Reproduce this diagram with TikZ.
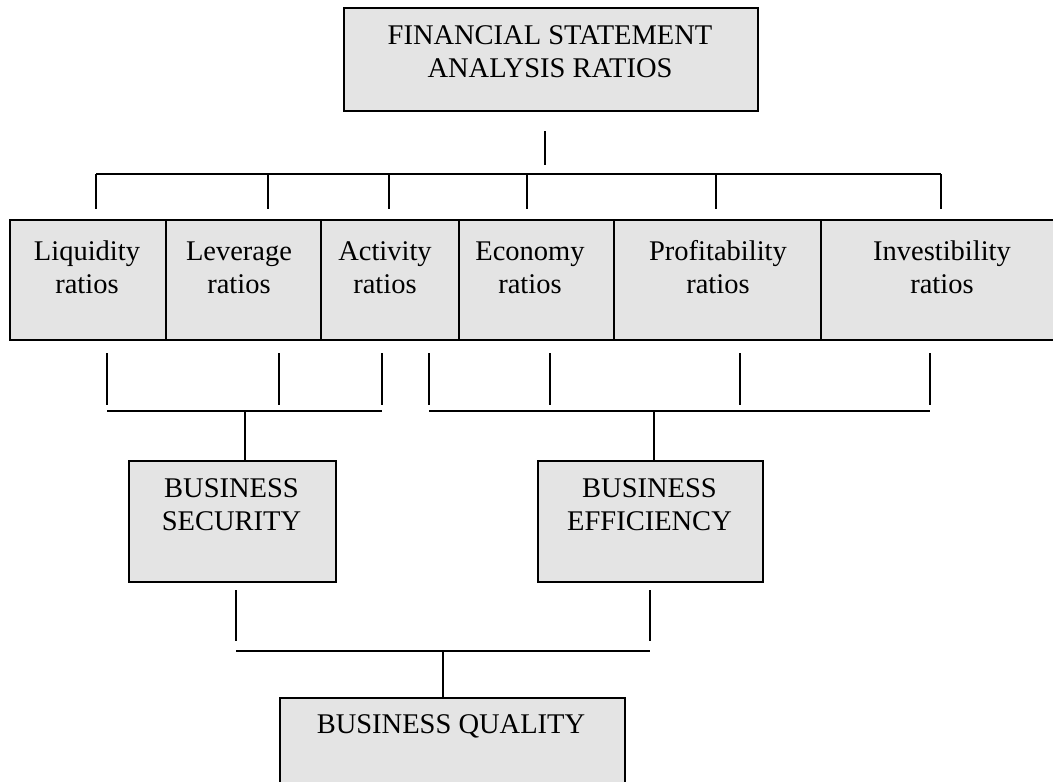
\documentclass[tikz,border=0pt]{standalone}
\usepackage{fontspec}
\setmainfont{Liberation Serif}
\usetikzlibrary{positioning}
\definecolor{BoxFill}{RGB}{228,228,228}

\begin{document}
\begin{tikzpicture}[x=1pt,y=-1pt,
    box/.style={draw,line width=2pt,fill=BoxFill,inner sep=0pt,anchor=north west},
    txt/.style={font=\fontsize{28.5}{33}\selectfont,align=center,anchor=base,inner sep=0pt},
    conn/.style={line width=1.7pt}]
  \clip (0,0) rectangle (1053,782);

  % top box
  \node[box,minimum width=414pt,minimum height=103pt] (fsa) at (343,7) {};
  \node[txt] (fsa-t) at (550,77) {FINANCIAL STATEMENT\\ANALYSIS RATIOS};

  % row of ratio groups
  \foreach \l/\r/\n/\x/\t in {9/165/liq/87/Liquidity, 165/320/lev/239/Leverage,
      320/458/act/385/Activity, 458/613/eco/530/Economy,
      613/820/pro/718/Profitability, 820/1062/inv/942/Investibility} {
    \node[box,minimum width={(\r-\l)*1pt},minimum height=120pt] (\n) at (\l,219) {};
    \node[txt] (\n-t) at (\x,293) {\t\\ratios};
  }

  % middle and bottom boxes
  \node[box,minimum width=207pt,minimum height=121pt] (sec) at (128,460) {};
  \node[txt] (sec-t) at (231.5,530) {BUSINESS\\SECURITY};
  \node[box,minimum width=225pt,minimum height=121pt] (eff) at (537,460) {};
  \node[txt] (eff-t) at (649.5,530) {BUSINESS\\EFFICIENCY};
  \node[box,minimum width=345pt,minimum height=110pt] (qua) at (279,697) {};
  \node[txt] (qua-t) at (451,733) {BUSINESS QUALITY};

  % upper bracket
  \coordinate (top-a) at (545,131);
  \coordinate (top-b) at (545,165);
  \draw[conn] (top-a) -- (top-b);
  \coordinate (bar-l) at (96,174);
  \coordinate (bar-r) at (941,174);
  \draw[conn] (bar-l) -- (bar-r);
  \foreach \x in {96,268,389,527,716,941}
    \draw[conn] (\x,174) -- (\x,209);

  % security bracket
  \foreach \x in {107,279,382}
    \draw[conn] (\x,353) -- (\x,405);
  \coordinate (sec-l) at (107,411);
  \coordinate (sec-r) at (382,411);
  \draw[conn] (sec-l) -- (sec-r);
  \draw[conn] (245,411) -- (245,460);

  % efficiency bracket
  \foreach \x in {429,550,740,930}
    \draw[conn] (\x,353) -- (\x,405);
  \coordinate (eff-l) at (429,411);
  \coordinate (eff-r) at (930,411);
  \draw[conn] (eff-l) -- (eff-r);
  \draw[conn] (654,411) -- (654,460);

  % quality bracket
  \foreach \x in {236,650}
    \draw[conn] (\x,590) -- (\x,641);
  \coordinate (qua-l) at (236,651);
  \coordinate (qua-r) at (650,651);
  \draw[conn] (qua-l) -- (qua-r);
  \draw[conn] (443,651) -- (443,697);
\end{tikzpicture}
\end{document}
